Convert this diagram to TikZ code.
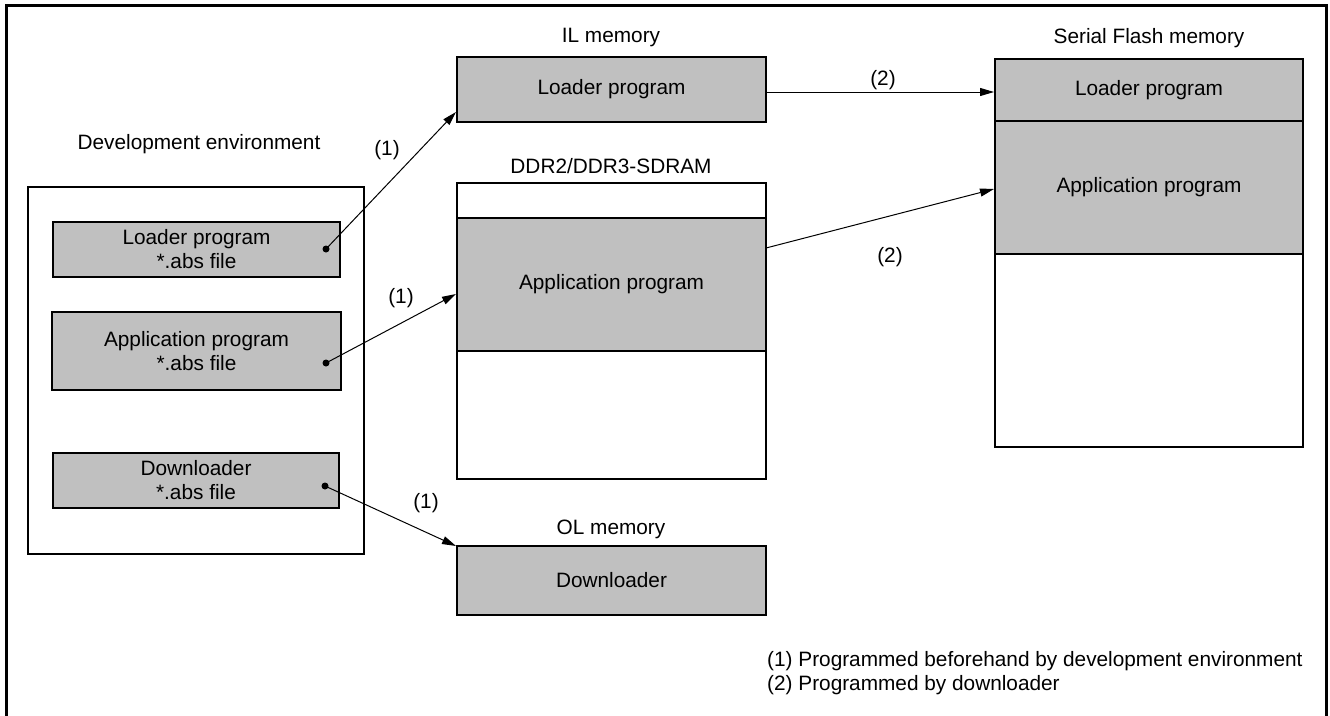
\documentclass[tikz,border=0pt]{standalone}
\usepackage{fontspec}
\setmainfont{Liberation Sans}
\usetikzlibrary{arrows.meta}
\definecolor{memgray}{RGB}{192,192,192}
\begin{document}
\begin{tikzpicture}[x=1pt,y=-1pt,
  font=\fontsize{20.8}{24}\selectfont,
  box/.style={draw, line width=2pt, fill=memgray, inner sep=0pt, outer sep=0pt, anchor=north west, align=center},
  ebox/.style={box, fill=white},
  conn/.style={line width=1pt, -{Triangle[length=14pt,width=8pt]}},
  lbl/.style={inner sep=0pt},
  dotmark/.style={fill=black}]
\useasboundingbox (0,0) rectangle (1330,715);
% outer frame
\draw[line width=3pt] (6.5,725) -- (6.5,5.5) -- (1326.5,5.5) -- (1326.5,725);

% Development environment
\node[lbl] (devt) at (199,144) {Development environment};
\node[ebox, line width=1.6pt, minimum width=336, minimum height=367] (dev) at (28,187) {};
\node[box, minimum width=287, minimum height=55] (devl) at (53,222) {Loader program\\*.abs file};
\node[box, minimum width=289, minimum height=78] (deva) at (52,312) {Application program\\*.abs file};
\node[box, minimum width=286, minimum height=55] (devd) at (53,453) {Downloader\\*.abs file};

% IL memory
\node[lbl] (ilt) at (611,38) {IL memory};
\node[box, minimum width=309, minimum height=65] (il) at (457,57) {Loader program};

% DDR
\node[lbl] (ddrt) at (611,166) {DDR2/DDR3-SDRAM};
\node[ebox, minimum width=309, minimum height=35] (ddrtop) at (457,183) {};
\node[box, minimum width=309, minimum height=133] (ddra) at (457,218) {Application program};
\node[ebox, minimum width=309, minimum height=128] (ddre) at (457,351) {};

% OL memory
\node[lbl] (olt) at (611,529) {OL memory};
\node[box, minimum width=309, minimum height=69] (ol) at (457,546) {Downloader};

% Serial Flash memory
\node[lbl] (sft) at (1149,38) {Serial Flash memory};
\node[box, minimum width=308, minimum height=62] (sfl) at (995,59) {Loader program};
\node[box, minimum width=308, minimum height=133] (sfa) at (995,121) {Application program};
\node[ebox, minimum width=308, minimum height=193] (sfe) at (995,254) {};

% connector points
\coordinate (dl) at (326,249);
\coordinate (da) at (326,363);
\coordinate (dd) at (325,486);
\coordinate (ilin) at (456,112);
\coordinate (ddrin) at (456,294);
\coordinate (olin) at (456,546);
\coordinate (ilout) at (766,92);
\coordinate (sflin) at (994,92);
\coordinate (ddrout) at (766,248);
\coordinate (sfain) at (994,189);

\fill[dotmark] (dl) circle (3.5);
\fill[dotmark] (da) circle (3.5);
\fill[dotmark] (dd) circle (3.5);

\draw[conn] (dl) -- (ilin);
\draw[conn] (da) -- (ddrin);
\draw[conn] (dd) -- (olin);
\draw[conn] (ilout) -- (sflin);
\draw[conn] (ddrout) -- (sfain);

% connector labels
\node[lbl] (l1a) at (387,150) {(1)};
\node[lbl] (l1b) at (401,298) {(1)};
\node[lbl] (l1c) at (426,503) {(1)};
\node[lbl] (l2a) at (883,80) {(2)};
\node[lbl] (l2b) at (890,257) {(2)};

% legend
\node[lbl, anchor=west] (leg1) at (767,661) {(1) Programmed beforehand by development environment};
\node[lbl, anchor=west] (leg2) at (767,685) {(2) Programmed by downloader};
\end{tikzpicture}
\end{document}
